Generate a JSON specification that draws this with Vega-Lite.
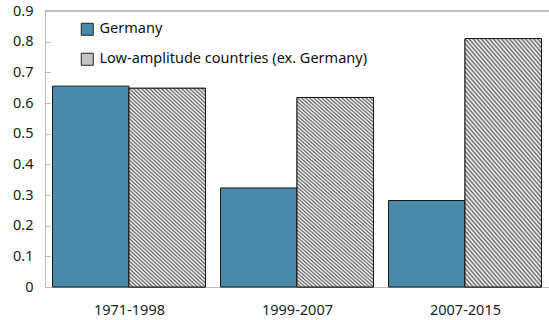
{
  "$schema": "https://vega.github.io/schema/vega-lite/v6.json",
  "width": 504,
  "height": 276,
  "autosize": {"type": "none"},
  "padding": {"left": 45, "top": 11, "right": 0, "bottom": 33},
  "background": "white",
  "config": {
    "view": {"stroke": null},
    "font": "Noto Sans",
    "axis": {"labelFont": "Noto Sans", "labelColor": "#222222", "labelFontSize": 14.5, "title": null}
  },
  "data": {
    "values": [
      {"period": "1971-1998", "series": "Germany", "value": 0.655},
      {"period": "1971-1998", "series": "Low-amplitude countries (ex. Germany)", "value": 0.648},
      {"period": "1999-2007", "series": "Germany", "value": 0.323},
      {"period": "1999-2007", "series": "Low-amplitude countries (ex. Germany)", "value": 0.618},
      {"period": "2007-2015", "series": "Germany", "value": 0.282},
      {"period": "2007-2015", "series": "Low-amplitude countries (ex. Germany)", "value": 0.81}
    ]
  },
  "encoding": {
    "x": {
      "field": "period", "type": "nominal", "sort": null,
      "scale": {"paddingInner": 0.09, "paddingOuter": 0.045},
      "axis": {"labelAngle": 0, "domainColor": "#bbbbbb", "tickColor": "#bbbbbb", "tickSize": -4, "tickBand": "extent", "labelPadding": 20, "grid": false}
    },
    "xOffset": {"field": "series", "type": "nominal", "sort": ["Germany", "Low-amplitude countries (ex. Germany)"], "scale": {"paddingInner": 0, "paddingOuter": 0}},
    "y": {
      "field": "value", "type": "quantitative",
      "scale": {"domain": [0, 0.9], "nice": false},
      "axis": {"values": [0, 0.1, 0.2, 0.3, 0.4, 0.5, 0.6, 0.7, 0.8, 0.9], "labelExpr": "datum.value === 0 ? '0' : format(datum.value, '.1f')", "grid": false, "domainColor": "#bbbbbb", "tickColor": "#bbbbbb", "tickSize": -5, "labelPadding": 17}
    }
  },
  "layer": [
    {
      "mark": {"type": "bar", "stroke": "#1a1a1a", "strokeWidth": 1},
      "encoding": {
        "color": {
          "field": "series", "type": "nominal",
          "scale": {"domain": ["Germany", "Low-amplitude countries (ex. Germany)"], "range": ["#4a8aab", "#c4c4c4"]},
          "legend": {
            "title": null, "orient": "none", "legendX": 35, "legendY": 11,
            "symbolType": "square", "symbolSize": 144, "symbolStrokeWidth": 1, "symbolStrokeColor": "#222222", "symbolOpacity": 1,
            "labelFontSize": 14.5, "labelFont": "Noto Sans", "labelColor": "#111111", "rowPadding": 13, "labelOffset": 5, "labelLimit": 0,
            "encode": {
              "symbols": {
                "update": {
                  "fill": [
                    {"test": "datum.value === 'Germany'", "value": "#4a8aab"},
                    {"value": {"gradient": "linear", "x1": 0, "y1": 1, "x2": 1, "y2": 0, "stops": [
                      {"offset": 0, "color": "#ffffff"}, {"offset": 0.1, "color": "#666666"}, {"offset": 0.2, "color": "#ffffff"},
                      {"offset": 0.3, "color": "#666666"}, {"offset": 0.4, "color": "#ffffff"}, {"offset": 0.5, "color": "#666666"},
                      {"offset": 0.6, "color": "#ffffff"}, {"offset": 0.7, "color": "#666666"}, {"offset": 0.8, "color": "#ffffff"},
                      {"offset": 0.9, "color": "#666666"}, {"offset": 1, "color": "#ffffff"}
                    ]}}
                  ],
                  "stroke": {"value": "#222222"}
                }
              }
            }
          }
        }
      }
    },
    {
      "transform": [{"filter": "datum.series !== 'Germany'"}],
      "mark": {
        "type": "bar", "stroke": "#1a1a1a", "strokeWidth": 1,
        "fill": {"gradient": "linear", "x1": 0, "y1": 1, "x2": 0.43, "y2": -0.204, "stops": [
          {"offset": 0, "color": "#666666"}, {"offset": 0.0069, "color": "#ffffff"}, {"offset": 0.0139, "color": "#666666"}, {"offset": 0.0208, "color": "#ffffff"},
          {"offset": 0.0278, "color": "#666666"}, {"offset": 0.0347, "color": "#ffffff"}, {"offset": 0.0417, "color": "#666666"}, {"offset": 0.0486, "color": "#ffffff"},
          {"offset": 0.0556, "color": "#666666"}, {"offset": 0.0625, "color": "#ffffff"}, {"offset": 0.0694, "color": "#666666"}, {"offset": 0.0764, "color": "#ffffff"},
          {"offset": 0.0833, "color": "#666666"}, {"offset": 0.0903, "color": "#ffffff"}, {"offset": 0.0972, "color": "#666666"}, {"offset": 0.1042, "color": "#ffffff"},
          {"offset": 0.1111, "color": "#666666"}, {"offset": 0.1181, "color": "#ffffff"}, {"offset": 0.125, "color": "#666666"}, {"offset": 0.1319, "color": "#ffffff"},
          {"offset": 0.1389, "color": "#666666"}, {"offset": 0.1458, "color": "#ffffff"}, {"offset": 0.1528, "color": "#666666"}, {"offset": 0.1597, "color": "#ffffff"},
          {"offset": 0.1667, "color": "#666666"}, {"offset": 0.1736, "color": "#ffffff"}, {"offset": 0.1806, "color": "#666666"}, {"offset": 0.1875, "color": "#ffffff"},
          {"offset": 0.1944, "color": "#666666"}, {"offset": 0.2014, "color": "#ffffff"}, {"offset": 0.2083, "color": "#666666"}, {"offset": 0.2153, "color": "#ffffff"},
          {"offset": 0.2222, "color": "#666666"}, {"offset": 0.2292, "color": "#ffffff"}, {"offset": 0.2361, "color": "#666666"}, {"offset": 0.2431, "color": "#ffffff"},
          {"offset": 0.25, "color": "#666666"}, {"offset": 0.2569, "color": "#ffffff"}, {"offset": 0.2639, "color": "#666666"}, {"offset": 0.2708, "color": "#ffffff"},
          {"offset": 0.2778, "color": "#666666"}, {"offset": 0.2847, "color": "#ffffff"}, {"offset": 0.2917, "color": "#666666"}, {"offset": 0.2986, "color": "#ffffff"},
          {"offset": 0.3056, "color": "#666666"}, {"offset": 0.3125, "color": "#ffffff"}, {"offset": 0.3194, "color": "#666666"}, {"offset": 0.3264, "color": "#ffffff"},
          {"offset": 0.3333, "color": "#666666"}, {"offset": 0.3403, "color": "#ffffff"}, {"offset": 0.3472, "color": "#666666"}, {"offset": 0.3542, "color": "#ffffff"},
          {"offset": 0.3611, "color": "#666666"}, {"offset": 0.3681, "color": "#ffffff"}, {"offset": 0.375, "color": "#666666"}, {"offset": 0.3819, "color": "#ffffff"},
          {"offset": 0.3889, "color": "#666666"}, {"offset": 0.3958, "color": "#ffffff"}, {"offset": 0.4028, "color": "#666666"}, {"offset": 0.4097, "color": "#ffffff"},
          {"offset": 0.4167, "color": "#666666"}, {"offset": 0.4236, "color": "#ffffff"}, {"offset": 0.4306, "color": "#666666"}, {"offset": 0.4375, "color": "#ffffff"},
          {"offset": 0.4444, "color": "#666666"}, {"offset": 0.4514, "color": "#ffffff"}, {"offset": 0.4583, "color": "#666666"}, {"offset": 0.4653, "color": "#ffffff"},
          {"offset": 0.4722, "color": "#666666"}, {"offset": 0.4792, "color": "#ffffff"}, {"offset": 0.4861, "color": "#666666"}, {"offset": 0.4931, "color": "#ffffff"},
          {"offset": 0.5, "color": "#666666"}, {"offset": 0.5069, "color": "#ffffff"}, {"offset": 0.5139, "color": "#666666"}, {"offset": 0.5208, "color": "#ffffff"},
          {"offset": 0.5278, "color": "#666666"}, {"offset": 0.5347, "color": "#ffffff"}, {"offset": 0.5417, "color": "#666666"}, {"offset": 0.5486, "color": "#ffffff"},
          {"offset": 0.5556, "color": "#666666"}, {"offset": 0.5625, "color": "#ffffff"}, {"offset": 0.5694, "color": "#666666"}, {"offset": 0.5764, "color": "#ffffff"},
          {"offset": 0.5833, "color": "#666666"}, {"offset": 0.5903, "color": "#ffffff"}, {"offset": 0.5972, "color": "#666666"}, {"offset": 0.6042, "color": "#ffffff"},
          {"offset": 0.6111, "color": "#666666"}, {"offset": 0.6181, "color": "#ffffff"}, {"offset": 0.625, "color": "#666666"}, {"offset": 0.6319, "color": "#ffffff"},
          {"offset": 0.6389, "color": "#666666"}, {"offset": 0.6458, "color": "#ffffff"}, {"offset": 0.6528, "color": "#666666"}, {"offset": 0.6597, "color": "#ffffff"},
          {"offset": 0.6667, "color": "#666666"}, {"offset": 0.6736, "color": "#ffffff"}, {"offset": 0.6806, "color": "#666666"}, {"offset": 0.6875, "color": "#ffffff"},
          {"offset": 0.6944, "color": "#666666"}, {"offset": 0.7014, "color": "#ffffff"}, {"offset": 0.7083, "color": "#666666"}, {"offset": 0.7153, "color": "#ffffff"},
          {"offset": 0.7222, "color": "#666666"}, {"offset": 0.7292, "color": "#ffffff"}, {"offset": 0.7361, "color": "#666666"}, {"offset": 0.7431, "color": "#ffffff"},
          {"offset": 0.75, "color": "#666666"}, {"offset": 0.7569, "color": "#ffffff"}, {"offset": 0.7639, "color": "#666666"}, {"offset": 0.7708, "color": "#ffffff"},
          {"offset": 0.7778, "color": "#666666"}, {"offset": 0.7847, "color": "#ffffff"}, {"offset": 0.7917, "color": "#666666"}, {"offset": 0.7986, "color": "#ffffff"},
          {"offset": 0.8056, "color": "#666666"}, {"offset": 0.8125, "color": "#ffffff"}, {"offset": 0.8194, "color": "#666666"}, {"offset": 0.8264, "color": "#ffffff"},
          {"offset": 0.8333, "color": "#666666"}, {"offset": 0.8403, "color": "#ffffff"}, {"offset": 0.8472, "color": "#666666"}, {"offset": 0.8542, "color": "#ffffff"},
          {"offset": 0.8611, "color": "#666666"}, {"offset": 0.8681, "color": "#ffffff"}, {"offset": 0.875, "color": "#666666"}, {"offset": 0.8819, "color": "#ffffff"},
          {"offset": 0.8889, "color": "#666666"}, {"offset": 0.8958, "color": "#ffffff"}, {"offset": 0.9028, "color": "#666666"}, {"offset": 0.9097, "color": "#ffffff"},
          {"offset": 0.9167, "color": "#666666"}, {"offset": 0.9236, "color": "#ffffff"}, {"offset": 0.9306, "color": "#666666"}, {"offset": 0.9375, "color": "#ffffff"},
          {"offset": 0.9444, "color": "#666666"}, {"offset": 0.9514, "color": "#ffffff"}, {"offset": 0.9583, "color": "#666666"}, {"offset": 0.9653, "color": "#ffffff"},
          {"offset": 0.9722, "color": "#666666"}, {"offset": 0.9792, "color": "#ffffff"}, {"offset": 0.9861, "color": "#666666"}, {"offset": 0.9931, "color": "#ffffff"},
          {"offset": 1, "color": "#666666"}
        ]}
      }
    },
    {
      "mark": {"type": "rule", "color": "#bbbbbb", "strokeWidth": 1},
      "encoding": {"y": {"datum": 0.9}, "x": null, "xOffset": null}
    }
  ]
}
